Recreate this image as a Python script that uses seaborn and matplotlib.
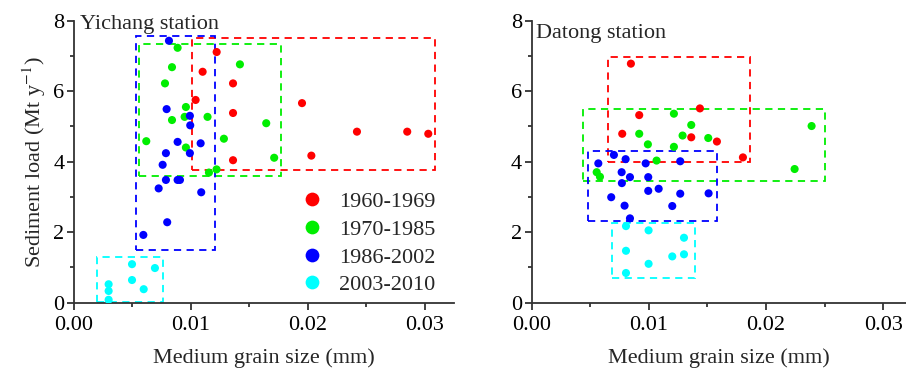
import numpy as np
import pandas as pd
import matplotlib
matplotlib.use("Agg")
import matplotlib.pyplot as plt
from matplotlib.patches import Rectangle
from matplotlib.ticker import MultipleLocator
import seaborn as sns

# Yichang station
yc_d_6069 = [0.0122, 0.0110, 0.0136, 0.0104, 0.0136, 0.0136, 0.0195, 0.0242, 0.0285, 0.0303, 0.0203]
yc_q_6069 = [7.11, 6.55, 6.22, 5.75, 5.38, 4.04, 5.66, 4.85, 4.85, 4.79, 4.17]
yc_d_7085 = [0.00886, 0.00838, 0.00778, 0.00957, 0.00838, 0.00946, 0.01142, 0.00618, 0.00957,
             0.01154, 0.01219, 0.01419, 0.01282, 0.01644, 0.01712]
yc_q_7085 = [7.23, 6.68, 6.22, 5.55, 5.18, 5.27, 5.27, 4.58, 4.40, 3.69, 3.78, 6.76, 4.65, 5.09, 4.11]
yc_d_8602 = [0.00812, 0.00792, 0.00991, 0.00994, 0.00886, 0.01083, 0.00786, 0.00991, 0.00758,
             0.00786, 0.00886, 0.00906, 0.00724, 0.01088, 0.00797, 0.00593]
yc_q_8602 = [7.43, 5.49, 5.30, 5.03, 4.56, 4.52, 4.24, 4.24, 3.91, 3.48, 3.48, 3.48, 3.24, 3.13, 2.28, 1.92]
yc_d_0310 = [0.00296, 0.00296, 0.00296, 0.00496, 0.00496, 0.00692, 0.00596]
yc_q_0310 = [0.52, 0.33, 0.08, 1.09, 0.64, 0.98, 0.38]

# Datong station
dt_d_6069 = [0.00847, 0.00918, 0.01436, 0.00773, 0.01362, 0.01581, 0.01803]
dt_q_6069 = [6.78, 5.32, 5.51, 4.79, 4.69, 4.57, 4.12]
dt_d_7085 = [0.01214, 0.01362, 0.00918, 0.01288, 0.01507, 0.00992, 0.01214, 0.01066, 0.02244,
             0.00555, 0.00583, 0.02389]
dt_q_7085 = [5.36, 5.04, 4.79, 4.74, 4.67, 4.49, 4.42, 4.03, 3.79, 3.70, 3.57, 5.01]
dt_d_8602 = [0.00702, 0.00802, 0.00569, 0.00973, 0.01268, 0.00768, 0.00839, 0.00770, 0.00995,
             0.00995, 0.01084, 0.01268, 0.01510, 0.00679, 0.00793, 0.01200, 0.00839]
dt_q_8602 = [4.19, 4.07, 3.95, 3.95, 4.01, 3.70, 3.56, 3.39, 3.56, 3.17, 3.23, 3.09, 3.10, 2.99,
             2.75, 2.74, 2.39]
dt_d_0310 = [0.00805, 0.00998, 0.01300, 0.00805, 0.01200, 0.01300, 0.00998, 0.00805]
dt_q_0310 = [2.17, 2.05, 1.84, 1.47, 1.31, 1.37, 1.10, 0.84]

periods = ["1960-1969", "1970-1985", "1986-2002", "2003-2010"]
colors = ["#ff0000", "#00ee00", "#0000ff", "#00ffff"]

# envelope boxes: (x0, x1, y0, y1)
yc_boxes = [(0.0101, 0.0309, 3.77, 7.50), (0.0056, 0.0177, 3.60, 7.35),
            (0.0053, 0.0121, 1.50, 7.57), (0.0020, 0.0076, 0.03, 1.29)]
dt_boxes = [(0.0065, 0.0186, 4.00, 6.96), (0.0044, 0.0250, 3.45, 5.50),
            (0.0048, 0.0158, 2.31, 4.31), (0.0069, 0.0139, 0.70, 2.26)]


def make_df(ds, qs):
    rows = []
    for p, d, q in zip(periods, ds, qs):
        for a, b in zip(d, q):
            rows.append({"size": a, "load": b, "period": p})
    return pd.DataFrame(rows)


yc = make_df([yc_d_6069, yc_d_7085, yc_d_8602, yc_d_0310], [yc_q_6069, yc_q_7085, yc_q_8602, yc_q_0310])
dt = make_df([dt_d_6069, dt_d_7085, dt_d_8602, dt_d_0310], [dt_q_6069, dt_q_7085, dt_q_8602, dt_q_0310])

sns.set_style("ticks")
plt.rcParams["font.family"] = ["Liberation Serif", "DejaVu Serif"]
plt.rcParams["mathtext.fontset"] = "stix"

fs = 16
fig = plt.figure(figsize=(9.06, 3.69), dpi=100)
ax1 = fig.add_axes([0.0817, 0.18, 0.4194, 0.764])
ax2 = fig.add_axes([0.5868, 0.18, 0.4139, 0.764])

palette = dict(zip(periods, colors))

for ax, df, boxes, name, xmax, tpos in [
    (ax1, yc, yc_boxes, "Yichang station", 0.0325, (0.016, 0.985)),
    (ax2, dt, dt_boxes, "Datong station", 0.032, (0.011, 0.953)),
]:
    sns.scatterplot(data=df, x="size", y="load", hue="period", palette=palette,
                    s=34, linewidth=0, ax=ax, legend=(ax is ax1), zorder=3)
    for (x0, x1, y0, y1), c in zip(boxes, colors):
        ax.add_patch(Rectangle((x0, y0), x1 - x0, y1 - y0, fill=False, edgecolor=c,
                               linestyle=(0, (4, 3)), linewidth=1.3, zorder=2))
    ax.set_xlim(0, xmax)
    ax.set_ylim(0, 8)
    ax.xaxis.set_major_locator(MultipleLocator(0.01))
    ax.xaxis.set_minor_locator(MultipleLocator(0.005))
    ax.yaxis.set_major_locator(MultipleLocator(2))
    ax.yaxis.set_minor_locator(MultipleLocator(1))
    ax.xaxis.set_major_formatter(matplotlib.ticker.FormatStrFormatter("%.2f"))
    ax.yaxis.set_major_formatter(matplotlib.ticker.FormatStrFormatter("%d"))
    ax.tick_params(which="major", direction="out", length=5, width=1.3, labelsize=fs, pad=2,
                   colors="#333333", labelcolor="black")
    ax.tick_params(axis="x", which="major", pad=5)
    ax.tick_params(which="minor", direction="out", length=3, width=1.3, colors="#333333")
    for sp in ["left", "bottom"]:
        ax.spines[sp].set_linewidth(1.3)
        ax.spines[sp].set_color("#333333")
    ax.spines["top"].set_visible(False)
    ax.spines["right"].set_visible(False)
    ax.set_xlabel("Medium grain size (mm)", fontsize=fs, labelpad=9)
    ax.set_ylabel("")
    ax.text(tpos[0], tpos[1], name, transform=ax.transAxes, fontsize=fs, va="center", ha="left")

ax1.set_ylabel("Sediment load (Mt y$^{-1}$)", fontsize=fs, labelpad=4)
ax1.legend(loc="lower right", bbox_to_anchor=(1.003, -0.045), frameon=False, fontsize=fs,
           markerscale=1.7, handletextpad=0.2, labelspacing=0.32, title=None)

fig.savefig("out.png", dpi=100)
